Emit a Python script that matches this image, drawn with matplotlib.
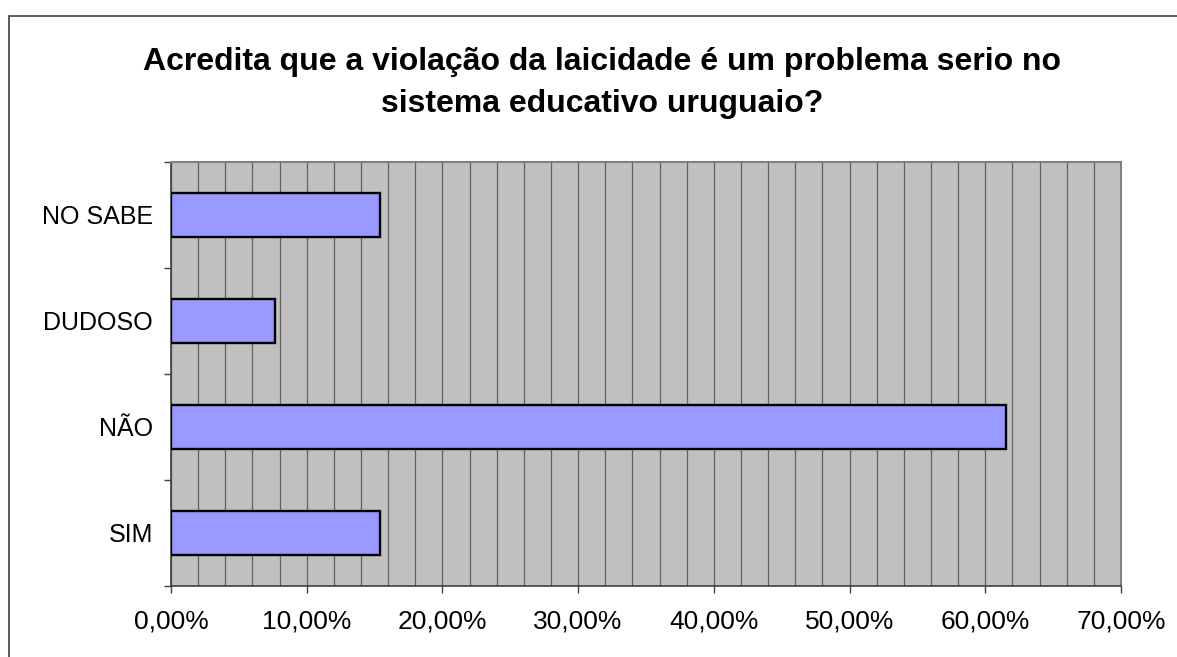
import numpy as np
import matplotlib
matplotlib.use("Agg")
import matplotlib.pyplot as plt
from matplotlib.patches import Rectangle

# dados do grafico
categorias = ["SIM", "NÃO", "DUDOSO", "NO SABE"]
valores = [15.38, 61.54, 7.69, 15.38]
ticks_x = [0, 10, 20, 30, 40, 50, 60, 70]
rotulos_x = ["0,00%", "10,00%", "20,00%", "30,00%", "40,00%", "50,00%", "60,00%", "70,00%"]
titulo_1 = "Acredita que a violação da laicidade é um problema serio no"
titulo_2 = "sistema educativo uruguaio?"

plt.rcParams["font.family"] = ["Liberation Sans", "DejaVu Sans"]

W, H = 1177, 657
fig = plt.figure(figsize=(W / 100, H / 100), dpi=100)
fig.patch.set_facecolor("white")

# moldura externa (cortada a direita e embaixo)
fig.patches.append(Rectangle((8.5 / W, -0.1), 1.2, 1 - 15.5 / H + 0.1,
                             transform=fig.transFigure, fill=False,
                             edgecolor="#404040", linewidth=1.2))

ax = fig.add_axes([171 / W, 1 - 586 / H, (1121 - 171) / W, (586 - 162) / H])
ax.set_facecolor("#C0C0C0")

y = np.arange(len(categorias))
ax.barh(y, valores, height=0.41, color="#9999FF", edgecolor="black",
        linewidth=1.7, zorder=3)

ax.set_xlim(0, 70)
ax.set_ylim(-0.5, 3.5)

ax.set_xticks(ticks_x)
ax.set_xticklabels(rotulos_x, fontsize=19)
ax.set_xticks(np.arange(0, 71, 2), minor=True)
ax.tick_params(axis="x", which="major", direction="out", length=5,
               width=1, color="#404040", pad=12)
ax.tick_params(axis="x", which="minor", length=0)
ax.grid(True, axis="x", which="both", color="#606060", linewidth=0.9, zorder=1)
ax.set_axisbelow(True)

ax.set_yticks(y)
ax.set_yticklabels(categorias, fontsize=18)
ax.set_yticks(np.arange(-0.5, 3.6, 1), minor=True)
ax.tick_params(axis="y", which="major", length=0, pad=13)
ax.tick_params(axis="y", which="minor", direction="out", length=5,
               width=1, color="#404040")

for s in ["top", "right"]:
    ax.spines[s].set_color("#808080")
    ax.spines[s].set_linewidth(1.5)
for s in ["left", "bottom"]:
    ax.spines[s].set_color("#404040")
    ax.spines[s].set_linewidth(1.2)

fig.text(602 / W, 1 - 70 / H, titulo_1, ha="center", va="baseline",
         fontsize=23, fontweight="bold")
fig.text(602 / W, 1 - 112 / H, titulo_2, ha="center", va="baseline",
         fontsize=23, fontweight="bold")

fig.savefig("out.png", dpi=100)
